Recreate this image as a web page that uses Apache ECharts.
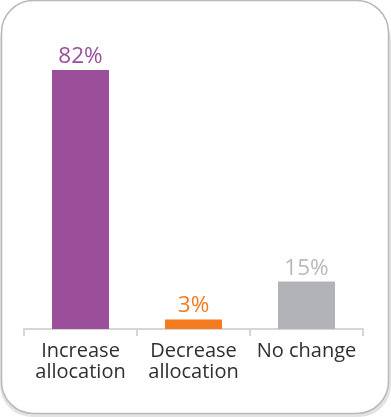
<!DOCTYPE html>
<html>
<head>
<meta charset="utf-8">
<script src="https://cdn.jsdelivr.net/npm/echarts@6/dist/echarts.min.js"></script>
<style>
  html, body { margin: 0; padding: 0; background: #ffffff; }
  #chart { width: 391px; height: 417px; }
</style>
</head>
<body>
<div id="chart"></div>
<script>
// Share of respondents by planned change in allocation
const categories = ['Increase\nallocation', 'Decrease\nallocation', 'No change'];
const shares = [82, 3, 15];
const barColors = ['#9b4f9b', '#f47b20', '#b2b3b6'];
const labelColors = ['#9b4f9b', '#f47b20', '#b8b9bb'];

const chart = echarts.init(document.getElementById('chart'), null, { renderer: 'canvas' });

chart.setOption({
  animation: false,
  graphic: [
    // soft shadow under the card
    {
      type: 'rect', z: -10, silent: true,
      shape: { x: 0, y: 8, width: 391, height: 409, r: 32 },
      style: { fill: '#e3e3e3' }
    },
    // white card with grey outline
    {
      type: 'rect', z: -9, silent: true,
      shape: { x: 1.5, y: 0.5, width: 387, height: 413, r: 32 },
      style: { fill: '#ffffff', stroke: '#b9b9b9', lineWidth: 1.5 }
    }
  ],
  grid: { left: 24, right: 28, top: 13, bottom: 88, containLabel: false },
  xAxis: {
    type: 'category',
    data: categories,
    axisLine: { show: true, lineStyle: { color: '#d6d6d6', width: 2 } },
    axisTick: { show: true, length: 7, lineStyle: { color: '#d6d6d6', width: 2 } },
    axisLabel: {
      margin: 12,
      color: '#2f2f2f',
      fontFamily: 'Open Sans',
      fontSize: 20,
      lineHeight: 21,
      interval: 0
    }
  },
  yAxis: {
    type: 'value',
    min: 0,
    max: 100,
    show: false,
    splitLine: { show: false }
  },
  series: [{
    type: 'bar',
    barWidth: 57,
    data: shares.map((v, i) => ({
      value: v,
      itemStyle: { color: barColors[i] },
      label: { color: labelColors[i] }
    })),
    label: {
      show: true,
      position: 'top',
      distance: 2,
      formatter: '{c}%',
      fontFamily: 'Open Sans',
      fontSize: 22.5
    }
  }]
});
</script>
</body>
</html>
